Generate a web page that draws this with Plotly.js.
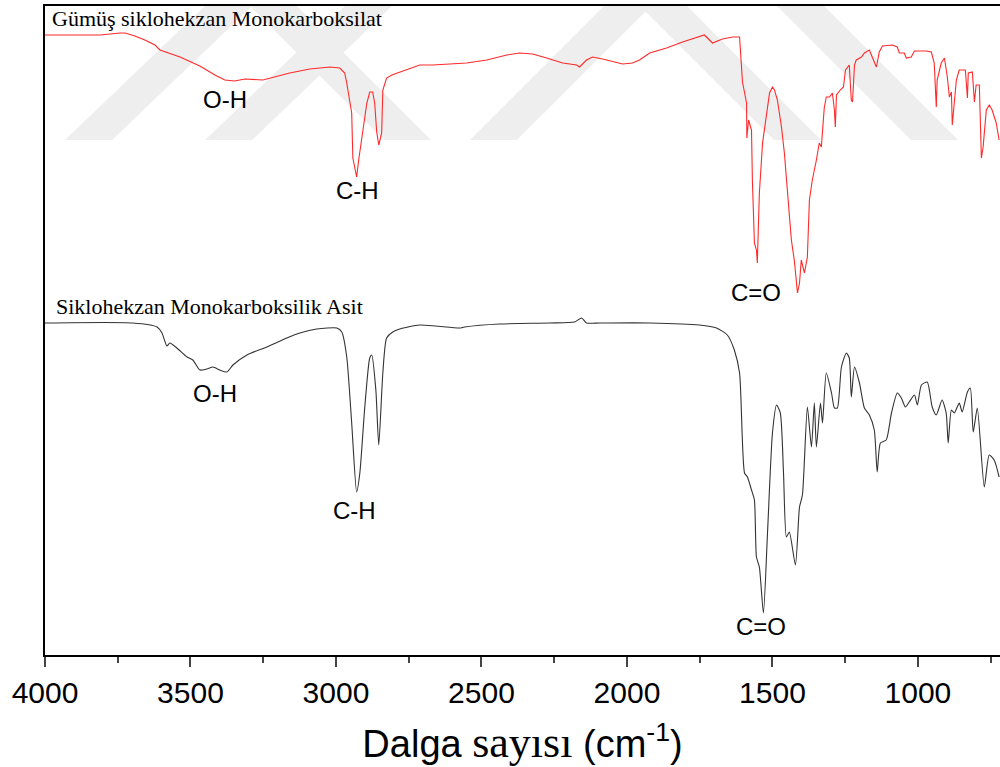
<!DOCTYPE html>
<html><head><meta charset="utf-8">
<script src="https://cdn.plot.ly/plotly-3.0.1.min.js"></script>
<style>html,body{margin:0;padding:0;background:#fff}#chart{width:1000px;height:767px}</style>
</head><body><div id="chart"></div>
<script>
// Silver cyclohexane monocarboxylate (red) – wavenumber (cm-1) and transmittance (a.u.)
const redWavenumber = [4000,3811,3742,3725,3691,3657,3622,3605,3536,3468,3416,3382,3348,3313,3251,3210,3159,3090,3021,2987,2970,2963,2946,2942,2929,2922,2908,2894,2884,2874,2867,2860,2853,2843,2839,2826,2808,2757,2712,2668,2551,2482,2413,2369,2324,2276,2221,2173,2163,2139,2118,2084,2036,2015,1981,1957,1922,1864,1809,1761,1734,1706,1672,1637,1613,1603,1589,1588,1582,1572,1569,1562,1555,1552,1545,1534,1521,1510,1500,1493,1483,1469,1459,1449,1435,1425,1418,1414,1407,1401,1390,1380,1373,1363,1349,1339,1332,1322,1315,1304,1294,1287,1284,1280,1267,1256,1249,1236,1229,1225,1218,1212,1194,1184,1167,1143,1140,1133,1122,1088,1071,1064,1047,1040,1023,1012,971,954,944,937,934,920,909,899,892,885,882,868,858,837,830,827,813,806,800,789,782,776,765,755,745,731,721];
const redValues = [620,620,622,622,619,615,610,605,598,589,580,575,574,576,575,578,582,586,588,587,582,572,542,497,478,495,525,552,563,563,552,523,510,522,565,577,580,585,590,590,592,595,600,602,601,597,592,590,588,595,598,596,592,591,592,595,602,607,613,617,620,612,616,618,618,573,552,517,535,525,475,412,405,392,462,512,538,562,568,565,555,528,502,462,415,395,375,362,372,395,382,398,455,475,495,512,508,547,558,558,562,545,528,560,565,568,585,590,555,553,590,595,598,602,605,588,592,603,609,610,608,602,602,597,598,604,604,603,592,548,575,592,597,578,558,563,530,575,585,585,557,582,583,553,570,570,497,508,545,550,545,532,515];

// Cyclohexane monocarboxylic acid (black)
const blackWavenumber = [4000,3698,3615,3598,3581,3571,3547,3512,3492,3468,3444,3423,3399,3375,3354,3306,3238,3169,3124,3066,2997,2980,2963,2946,2929,2918,2901,2884,2877,2863,2853,2839,2826,2805,2781,2712,2575,2558,2438,2266,2180,2156,2139,2094,1922,1751,1692,1655,1631,1613,1596,1586,1572,1562,1555,1545,1531,1517,1500,1486,1473,1462,1452,1442,1421,1407,1397,1380,1366,1356,1349,1335,1328,1315,1297,1287,1277,1263,1246,1236,1229,1218,1201,1184,1167,1150,1140,1129,1109,1091,1071,1057,1043,1030,1012,1002,988,968,951,937,917,903,896,885,875,858,848,830,820,810,796,772,755,738,721];
const blackValues = [332,332,328,322,309,312,307,298,295,285,286,288,285,283,290,300,308,317,322,326,327,323,298,232,163,182,248,297,300,265,210,282,317,323,326,330,327,328,331,332,333,337,332,332,332,330,327,320,305,282,182,178,165,155,98,88,42,122,222,250,242,182,118,123,90,148,160,248,208,252,208,252,232,282,262,247,247,288,302,297,258,288,272,247,240,225,183,212,215,242,262,257,248,253,260,250,270,273,248,240,255,242,212,245,242,252,243,263,267,223,247,168,200,195,178];

const seriesNames = ["Gümüş siklohekzan Monokarboksilat", "Siklohekzan Monokarboksilik Asit"];
const xTickValues = [4000,3500,3000,2500,2000,1500,1000];

// band labels: [text, wavenumber, value]
const bandLabels = [
  ["O-H", 3382, 556], ["C-H", 2925, 465], ["C=O", 1555, 363],
  ["O-H", 3416, 262], ["C-H", 2935, 145], ["C=O", 1538, 29]
];
const seriesLabelPos = [[3982, 637], [3970, 349]];

const traces = [
  {x: redWavenumber, y: redValues, type: 'scatter', mode: 'lines', name: seriesNames[0],
   line: {color: '#ff2a2a', width: 1.1}},
  {x: blackWavenumber, y: blackValues, type: 'scatter', mode: 'lines', name: seriesNames[1],
   line: {color: '#333333', width: 1.1, shape: 'spline', smoothing: 0.6}}
];

const annotations = bandLabels.map(b => ({
  x: b[1], y: b[2], text: b[0], showarrow: false,
  font: {family: 'Liberation Sans, Arial', size: 24, color: '#000'}
}));
seriesNames.forEach((n, i) => annotations.push({
  x: seriesLabelPos[i][0], y: seriesLabelPos[i][1], text: n, showarrow: false,
  xanchor: 'left', font: {family: 'Liberation Serif, Times New Roman', size: 22, color: '#000'}
}));

// faint background watermark bands (pixel geometry -> paper fractions)
const W = 955, H = 649, L = 45, T = 6;
function band(pts) {
  return 'M' + pts.map(p => ((p[0] - L) / W).toFixed(4) + ',' + (1 - (p[1] - T) / H).toFixed(4)).join(' L') + ' Z';
}
const wm = [
  [[65,140],[112,140],[252,6],[205,6]],
  [[205,140],[252,140],[392,6],[345,6]],
  [[250,6],[297,6],[431,140],[384,140]],
  [[470,140],[517,140],[651,6],[604,6]],
  [[640,6],[687,6],[821,140],[774,140]],
  [[777,6],[824,6],[958,140],[911,140]]
];
const shapes = wm.map(p => ({type: 'path', xref: 'paper', yref: 'paper', path: band(p),
  fillcolor: '#eeeeee', line: {width: 0}, layer: 'below'}));

const layout = {
  width: 1000, height: 767,
  margin: {l: 45, r: 0, t: 6, b: 112},
  paper_bgcolor: '#fff', plot_bgcolor: '#fff',
  showlegend: false,
  xaxis: {
    range: [4000, 718], tickvals: xTickValues, ticks: 'outside', ticklen: 10, tickwidth: 2,
    minor: {dtick: 250, tick0: 0, ticks: 'outside', ticklen: 6, tickwidth: 2, showgrid: false},
    showline: true, linewidth: 2, linecolor: '#000', mirror: true, showgrid: false, zeroline: false,
    tickfont: {family: 'Liberation Sans, Arial', size: 30, color: '#000'},
    title: {text: 'Dalga <span style="font-family:Liberation Serif;font-size:44px">sayısı</span> (cm<sup>-1</sup>)',
            font: {family: 'Liberation Sans, Arial', size: 38, color: '#000'}, standoff: 22}
  },
  yaxis: {
    range: [0, 649], showticklabels: false, ticks: '', showline: true, linewidth: 2, linecolor: '#000',
    showgrid: false, zeroline: false
  },
  shapes: shapes,
  annotations: annotations
};
Plotly.newPlot('chart', traces, layout, {staticPlot: true});
</script></body></html>
